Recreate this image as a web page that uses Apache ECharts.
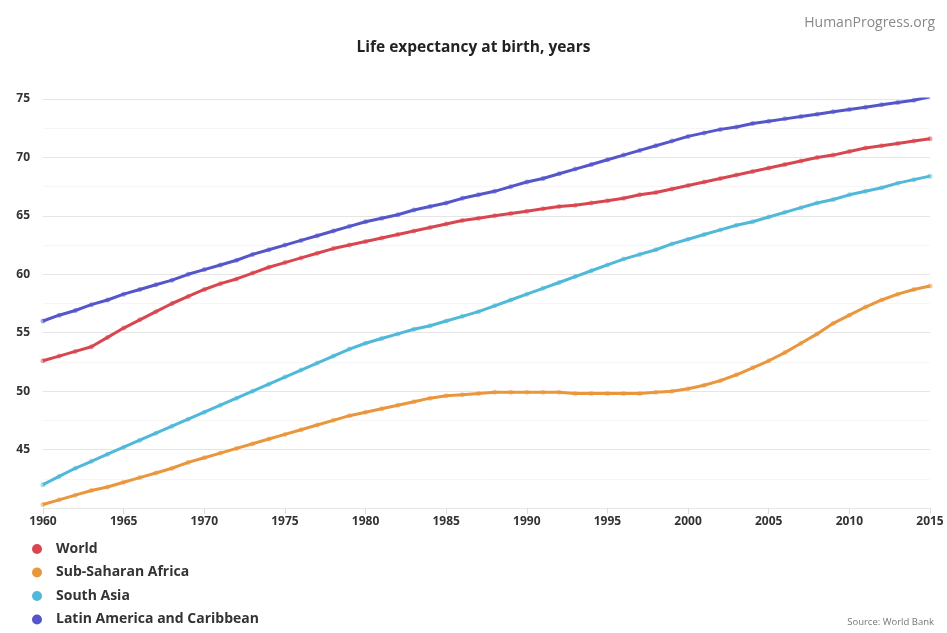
<!DOCTYPE html>
<html>
<head>
<meta charset="utf-8">
<script src="https://cdn.jsdelivr.net/npm/echarts@6/dist/echarts.min.js"></script>
<style>
  html, body { margin: 0; padding: 0; background: #fff; }
  #chart { width: 947px; height: 633px; }
</style>
</head>
<body>
<div id="chart"></div>
<script>
// years 1960 - 2015
const years = [];
for (let y = 1960; y <= 2015; y++) years.push(y);

const seriesNames = ['World', 'Sub-Saharan Africa', 'South Asia', 'Latin America and Caribbean'];

const world = [
  52.6, 53.0, 53.4, 53.8, 54.6, 55.4, 56.1, 56.8, 57.5, 58.1,
  58.7, 59.2, 59.6, 60.1, 60.6, 61.0, 61.4, 61.8, 62.2, 62.5,
  62.8, 63.1, 63.4, 63.7, 64.0, 64.3, 64.6, 64.8, 65.0, 65.2,
  65.4, 65.6, 65.8, 65.9, 66.1, 66.3, 66.5, 66.8, 67.0, 67.3,
  67.6, 67.9, 68.2, 68.5, 68.8, 69.1, 69.4, 69.7, 70.0, 70.2,
  70.5, 70.8, 71.0, 71.2, 71.4, 71.6
];
const subSaharanAfrica = [
  40.3, 40.7, 41.1, 41.5, 41.8, 42.2, 42.6, 43.0, 43.4, 43.9,
  44.3, 44.7, 45.1, 45.5, 45.9, 46.3, 46.7, 47.1, 47.5, 47.9,
  48.2, 48.5, 48.8, 49.1, 49.4, 49.6, 49.7, 49.8, 49.9, 49.9,
  49.9, 49.9, 49.9, 49.8, 49.8, 49.8, 49.8, 49.8, 49.9, 50.0,
  50.2, 50.5, 50.9, 51.4, 52.0, 52.6, 53.3, 54.1, 54.9, 55.8,
  56.5, 57.2, 57.8, 58.3, 58.7, 59.0
];
const southAsia = [
  42.0, 42.7, 43.4, 44.0, 44.6, 45.2, 45.8, 46.4, 47.0, 47.6,
  48.2, 48.8, 49.4, 50.0, 50.6, 51.2, 51.8, 52.4, 53.0, 53.6,
  54.1, 54.5, 54.9, 55.3, 55.6, 56.0, 56.4, 56.8, 57.3, 57.8,
  58.3, 58.8, 59.3, 59.8, 60.3, 60.8, 61.3, 61.7, 62.1, 62.6,
  63.0, 63.4, 63.8, 64.2, 64.5, 64.9, 65.3, 65.7, 66.1, 66.4,
  66.8, 67.1, 67.4, 67.8, 68.1, 68.4
];
const latinAmerica = [
  56.0, 56.5, 56.9, 57.4, 57.8, 58.3, 58.7, 59.1, 59.5, 60.0,
  60.4, 60.8, 61.2, 61.7, 62.1, 62.5, 62.9, 63.3, 63.7, 64.1,
  64.5, 64.8, 65.1, 65.5, 65.8, 66.1, 66.5, 66.8, 67.1, 67.5,
  67.9, 68.2, 68.6, 69.0, 69.4, 69.8, 70.2, 70.6, 71.0, 71.4,
  71.8, 72.1, 72.4, 72.6, 72.9, 73.1, 73.3, 73.5, 73.7, 73.9,
  74.1, 74.3, 74.5, 74.7, 74.9, 75.2
];

const colors = ['#d8474f', '#ea963c', '#50b8d9', '#5556c9'];
const allValues = [world, subSaharanAfrica, southAsia, latinAmerica];

const chart = echarts.init(document.getElementById('chart'));

const series = allValues.map((vals, i) => ({
  name: seriesNames[i],
  type: 'line',
  data: vals.map((v, j) => [years[j], v]),
  symbol: 'circle',
  symbolSize: 5,
  showSymbol: true,
  lineStyle: { width: 3, color: colors[i] },
  itemStyle: { color: colors[i], opacity: 0.5 },
  z: 2 + i
}));

chart.setOption({
  backgroundColor: '#fff',
  textStyle: { fontFamily: 'Open Sans' },
  title: [
    {
      text: 'Life expectancy at birth, years',
      left: 'center',
      top: 35,
      textStyle: { fontSize: 15.5, fontWeight: 'bold', color: '#222', fontFamily: 'Open Sans' }
    },
    {
      text: 'HumanProgress.org',
      right: 7,
      top: 11,
      textStyle: { fontSize: 14, fontWeight: 'normal', color: '#888', fontFamily: 'Open Sans' }
    },
    {
      text: 'Source: World Bank',
      right: 8,
      bottom: 1,
      textStyle: { fontSize: 9.5, fontWeight: 'normal', color: '#777', fontFamily: 'Open Sans' }
    }
  ],
  legend: {
    orient: 'vertical',
    left: 27,
    top: 537,
    itemGap: 9.5,
    itemWidth: 10,
    itemHeight: 10,
    icon: 'circle',
    itemStyle: { opacity: 1 },
    textStyle: { fontSize: 14, fontWeight: 'bold', color: '#333', fontFamily: 'Open Sans', padding: [0, 0, 0, 9] },
    data: seriesNames.map((n, i) => ({ name: n, itemStyle: { color: colors[i], opacity: 1 } }))
  },
  grid: { left: 43, right: 17, top: 99, bottom: 125, containLabel: false },
  xAxis: {
    type: 'value',
    min: 1960,
    max: 2015,
    interval: 5,
    axisLine: { show: false },
    axisTick: { show: true, length: 6, lineStyle: { color: '#ddd' } },
    splitLine: { show: false },
    axisLabel: { color: '#333', fontSize: 12, fontWeight: 'bold', margin: 8, formatter: v => String(v) }
  },
  yAxis: {
    type: 'value',
    min: 40,
    max: 75,
    interval: 5,
    axisLine: { show: false },
    axisTick: { show: false },
    axisLabel: {
      color: '#333', fontSize: 12, fontWeight: 'bold', margin: 13,
      formatter: v => (v === 40 ? '' : String(v))
    },
    splitLine: { lineStyle: { color: '#e6e6e6', width: 1 } },
    minorTick: { show: false, splitNumber: 2 },
    minorSplitLine: { show: true, lineStyle: { color: '#f6f6f6', width: 1 } }
  },
  series: series
});
</script>
</body>
</html>
